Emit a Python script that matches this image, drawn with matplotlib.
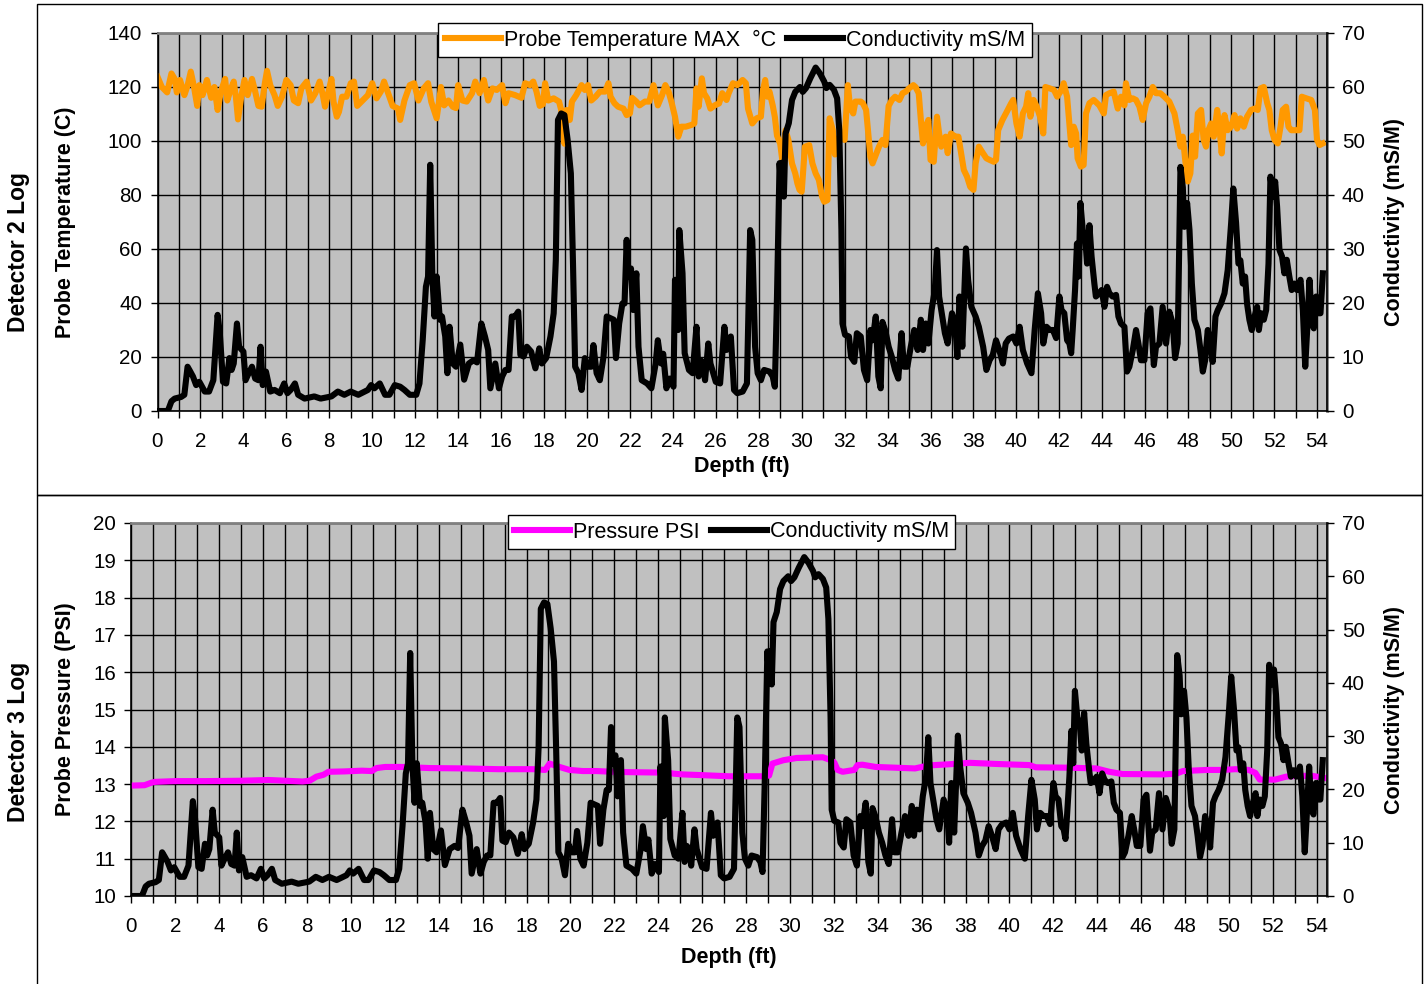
import matplotlib
matplotlib.use("Agg")
import matplotlib.pyplot as plt
from matplotlib.lines import Line2D
from matplotlib.patches import Rectangle
from matplotlib.ticker import MultipleLocator, FuncFormatter

plt.rcParams['font.family'] = ['Liberation Sans', 'DejaVu Sans']

# ---------------- data ----------------
cond_depth = [0.0, 0.45, 0.5, 0.65, 0.8, 1.1, 1.25, 1.4, 1.5, 1.65, 1.8, 1.95, 2.2, 2.4, 2.6, 2.8, 2.9, 3.05, 3.2,
              3.35, 3.45, 3.55, 3.7, 3.8, 4.0, 4.1, 4.2, 4.4, 4.55, 4.7, 4.8, 4.9, 5.05, 5.25, 5.45, 5.7, 5.9, 6.05,
              6.2, 6.4, 6.55, 6.85, 7.3, 7.6, 8.1, 8.4, 8.7, 9.0, 9.35, 9.8, 9.95, 10.1, 10.35, 10.6, 10.8, 11.05,
              11.3, 11.5, 11.75, 12.05, 12.2, 12.35, 12.5, 12.6, 12.7, 12.8, 12.9, 13.0, 13.15, 13.25, 13.4, 13.5,
              13.6, 13.75, 13.9, 14.1, 14.28, 14.5, 14.72, 14.88, 15.08, 15.25, 15.4, 15.5, 15.6, 15.73, 15.9,
              16.05, 16.2, 16.35, 16.5, 16.65, 16.8, 16.9, 17.05, 17.2, 17.4, 17.6, 17.78, 17.9, 18.1, 18.3, 18.45,
              18.55, 18.65, 18.8, 18.95, 19.1, 19.25, 19.35, 19.45, 19.6, 19.75, 19.9, 20.05, 20.2, 20.3, 20.45,
              20.6, 20.77, 20.92, 21.08, 21.25, 21.35, 21.5, 21.65, 21.75, 21.85, 21.9, 22.05, 22.15, 22.3, 22.4,
              22.55, 22.8, 23.0, 23.2, 23.3, 23.45, 23.55, 23.7, 23.85, 24.03, 24.1, 24.25, 24.3, 24.45, 24.55,
              24.75, 24.92, 25.1, 25.2, 25.3, 25.4, 25.5, 25.65, 25.75, 26.0, 26.2, 26.4, 26.5, 26.7, 26.85, 27.0,
              27.25, 27.45, 27.6, 27.7, 27.83, 27.95, 28.1, 28.25, 28.5, 28.65, 28.75, 28.85, 28.97, 29.05, 29.1,
              29.17, 29.25, 29.4, 29.55, 29.7, 29.92, 30.05, 30.2, 30.4, 30.65, 30.85, 31.05, 31.15, 31.3, 31.5,
              31.65, 31.75, 31.85, 31.9, 32.02, 32.2, 32.3, 32.45, 32.57, 32.75, 32.9, 33.05, 33.2, 33.3, 33.45,
              33.57, 33.68, 33.76, 33.9, 34.05, 34.2, 34.35, 34.5, 34.65, 34.76, 34.92, 35.08, 35.24, 35.4, 35.55,
              35.65, 35.78, 35.9, 36.05, 36.2, 36.3, 36.4, 36.5, 36.67, 36.8, 37.0, 37.15, 37.25, 37.35, 37.48,
              37.65, 37.75, 37.9, 38.1, 38.25, 38.45, 38.6, 38.75, 38.9, 39.05, 39.2, 39.37, 39.5, 39.65, 39.85,
              40.0, 40.15, 40.3, 40.5, 40.7, 40.85, 41.0, 41.15, 41.25, 41.4, 41.55, 41.7, 41.85, 42.0, 42.1,
              42.23, 42.36, 42.47, 42.55, 42.62, 42.73, 42.82, 42.9, 42.98, 43.09, 43.2, 43.29, 43.4, 43.5, 43.63,
              43.7, 43.86, 43.97, 44.1, 44.22, 44.33, 44.48, 44.64, 44.75, 44.87, 45.03, 45.15, 45.26, 45.42,
              45.57, 45.68, 45.8, 45.96, 46.11, 46.24, 46.4, 46.5, 46.66, 46.81, 46.97, 47.12, 47.28, 47.39,
              47.51, 47.64, 47.75, 47.82, 47.95, 48.06, 48.17, 48.29, 48.45, 48.57, 48.68, 48.79, 48.91, 49.03,
              49.14, 49.27, 49.38, 49.53, 49.69, 49.84, 50.0, 50.1, 50.23, 50.34, 50.43, 50.54, 50.65, 50.74,
              50.85, 50.96, 51.09, 51.21, 51.29, 51.4, 51.52, 51.63, 51.74, 51.83, 51.94, 52.05, 52.14, 52.25,
              52.37, 52.48, 52.59, 52.71, 52.82, 52.95, 53.07, 53.23, 53.34, 53.45, 53.54, 53.65, 53.76, 53.85,
              53.96, 54.07, 54.16, 54.27]
conductivity = [0, 0, 0.2, 1.8, 2.3, 2.6, 3.0, 8.2, 7.5, 6.4, 4.8, 5.4, 3.6, 3.6, 5.7, 17.8, 14.5, 5.4, 5.1,
                9.8, 7.6, 8.8, 16.2, 11.9, 11.0, 5.7, 6.6, 8.2, 6.0, 5.7, 11.9, 4.8, 7.3, 3.6, 3.9, 3.3, 5.1, 3.3,
                3.9, 5.1, 3.0, 2.3, 2.7, 2.3, 2.7, 3.6, 3.0, 3.6, 3.0, 3.9, 4.8, 4.2, 5.1, 3.0, 3.0, 4.8,
                4.5, 3.9, 3.0, 3.0, 5.1, 13.1, 23.0, 24.9, 45.6, 24.9, 17.5, 24.9, 16.9, 17.5, 13.8, 7.0,
                15.6, 8.8, 8.2, 12.3, 5.8, 8.8, 9.4, 9.0, 16.2, 13.8, 11.3, 4.2, 6.2, 8.8, 4.2,
                6.4, 7.6, 7.6, 17.5, 17.5, 18.4, 10.4, 10.1, 11.9, 11.0, 7.9, 11.6, 8.8, 9.8, 13.8, 18.1,
                28.0, 53.9, 55.1, 54.8, 50.2, 44.0, 27.3, 8.2, 7.0, 3.9, 9.8, 8.2, 8.2, 12.2, 7.0,
                5.7, 10.0, 17.5, 17.2, 16.9, 9.8, 16.2, 19.9, 19.9, 31.7, 24.9, 26.4, 18.7, 25.5, 11.9,
                5.7, 5.1, 4.2, 8.8, 13.1, 8.8, 10.6, 4.2, 6.0, 4.5, 24.3, 15.0, 33.5, 25.5, 10.7,
                7.6, 7.0, 15.6, 6.4, 9.4, 8.8, 5.7, 12.5, 8.8, 5.4, 5.1, 15.6, 11.3, 13.8, 3.9, 3.3,
                3.6, 5.1, 33.5, 31.7, 11.9, 7.0, 5.7, 7.6, 7.3, 6.4, 4.5, 21.2, 45.9, 41.0, 46.0,
                39.7, 51.4, 53.3, 57.6, 59.1, 60.0, 59.1, 59.8, 61.6, 63.6, 62.5, 61.0, 59.8, 60.4, 59.5,
                57.9, 52.0, 33.5, 16.2, 14.1, 13.8, 10.0, 9.1, 14.4, 13.8, 7.6, 5.7, 15.0, 13.1, 17.5,
                6.4, 4.2, 16.5, 14.8, 11.9, 10.0, 7.6, 6.0, 14.4, 8.2, 8.2, 11.9, 15.0, 11.3, 16.9,
                11.3, 16.2, 12.5, 18.7, 22.4, 29.8, 21.2, 18.7, 14.4, 12.5, 18.1, 16.2, 10.0, 21.2, 11.9,
                30.1, 24.3, 19.3, 17.5, 15.6, 11.9, 7.6, 9.4, 10.4, 13.1, 11.3, 8.8, 12.5, 13.4, 13.8,
                12.5, 15.6, 11.3, 8.8, 7.0, 15.0, 21.8, 18.1, 12.5, 15.6, 15.0, 15.0, 13.5, 21.2, 18.7,
                18.1, 13.1, 12.5, 10.7, 15.0, 22.4, 31.0, 24.9, 38.5, 33.5, 32.3, 27.3, 34.4, 28.6, 23.6,
                21.2, 21.8, 22.4, 19.3, 23.0, 21.8, 21.2, 21.5, 17.5, 16.2, 15.6, 7.3, 8.2, 11.3,
                15.0, 12.5, 9.4, 9.4, 18.1, 19.0, 8.5, 11.9, 12.5, 19.3, 12.5, 18.4, 16.2, 9.8,
                12.5, 45.2, 41.4, 34.1, 38.5, 33.5, 23.6, 16.9, 15.0, 11.3, 7.3, 9.4, 15.0, 13.1,
                9.1, 17.5, 18.7, 19.9, 21.8, 26.1, 34.8, 41.2, 34.8, 27.3, 27.9, 23.6, 24.9, 19.9,
                16.9, 15.0, 17.5, 19.3, 15.0, 18.1, 16.9, 18.7, 27.3, 43.4, 39.7, 42.5, 37.8, 29.8,
                28.6, 25.5, 28.0, 24.9, 22.4, 23.6, 22.4, 24.3, 18.7, 8.2, 15.0, 24.3, 16.2, 15.3,
                21.2, 18.1, 18.1, 25.5]

temp_depth = [0, 0.2, 0.45, 0.65, 0.8, 0.9, 1.05, 1.25, 1.4, 1.55, 1.7, 1.85, 1.95, 2.1, 2.3, 2.5, 2.65, 2.8,
              2.95, 3.15, 3.25, 3.4, 3.55, 3.65, 3.75, 3.9, 4.05, 4.2, 4.4, 4.55, 4.7, 4.85, 5.0, 5.1, 5.25, 5.45,
              5.6, 5.8, 6.0, 6.2, 6.35, 6.55, 6.7, 6.95, 7.15, 7.35, 7.55, 7.7, 7.8, 7.95, 8.1, 8.2, 8.35, 8.45,
              8.6, 8.8, 9.0, 9.15, 9.3, 9.55, 9.8, 10.0, 10.2, 10.4, 10.55, 10.8, 10.95, 11.2, 11.3, 11.5, 11.75,
              11.95, 12.15, 12.4, 12.6, 12.75, 13.0, 13.1, 13.2, 13.35, 13.55, 13.75, 13.9, 14.0, 14.2, 14.4,
              14.65, 14.8, 15.0, 15.2, 15.4, 15.6, 15.8, 16.05, 16.2, 16.35, 16.65, 16.95, 17.12, 17.35, 17.5,
              17.65, 17.8, 17.95, 18.05, 18.2, 18.45, 18.7, 18.8, 18.95, 19.05, 19.2, 19.3, 19.5, 19.75, 19.9,
              20.05, 20.2, 20.4, 20.6, 20.85, 21.0, 21.1, 21.28, 21.45, 21.7, 21.85, 22.0, 22.1, 22.3, 22.45,
              22.7, 22.9, 23.1, 23.3, 23.5, 23.65, 23.8, 23.95, 24.1, 24.25, 24.4, 24.6, 24.85, 25.0, 25.1, 25.2,
              25.35, 25.45, 25.6, 25.75, 25.95, 26.15, 26.3, 26.5, 26.6, 26.8, 27.0, 27.25, 27.4, 27.5, 27.7,
              27.9, 28.1, 28.2, 28.3, 28.4, 28.5, 28.65, 28.75, 28.85, 29.0, 29.1, 29.25, 29.38, 29.55, 29.7,
              29.8, 29.9, 30.0, 30.15, 30.35, 30.5, 30.65, 30.8, 30.95, 31.05, 31.2, 31.3, 31.45, 31.55, 31.6,
              31.8, 32.0, 32.15, 32.25, 32.4, 32.5, 32.75, 32.85, 33.0, 33.2, 33.3, 33.45, 33.6, 33.76, 33.9,
              34.05, 34.2, 34.35, 34.55, 34.7, 34.85, 35.0, 35.2, 35.3, 35.45, 35.55, 35.65, 35.78, 35.9, 36.0,
              36.15, 36.3, 36.4, 36.5, 36.7, 36.8, 36.95, 37.15, 37.3, 37.45, 37.55, 37.7, 37.85, 38.0, 38.1,
              38.25, 38.4, 38.6, 38.75, 38.95, 39.05, 39.15, 39.35, 39.55, 39.75, 39.85, 40.0, 40.15, 40.3,
              40.45, 40.55, 40.65, 40.8, 40.95, 41.1, 41.25, 41.35, 41.55, 41.75, 41.9, 42.1, 42.2, 42.36,
              42.47, 42.55, 42.67, 42.78, 42.85, 43.0, 43.13, 43.24, 43.4, 43.6, 43.86, 44.07, 44.17, 44.33,
              44.53, 44.72, 44.87, 45.03, 45.1, 45.26, 45.42, 45.57, 45.73, 45.88, 46.04, 46.19, 46.35, 46.5,
              46.7, 46.89, 47.12, 47.36, 47.51, 47.64, 47.75, 47.86, 47.98, 48.1, 48.21, 48.32, 48.45, 48.6,
              48.72, 48.83, 48.94, 49.07, 49.19, 49.35, 49.45, 49.56, 49.69, 49.84, 50.0, 50.16, 50.28, 50.43,
              50.59, 50.74, 50.93, 51.09, 51.24, 51.37, 51.52, 51.68, 51.78, 51.89, 52.02, 52.17, 52.3, 52.4,
              52.56, 52.67, 52.8, 53.03, 53.18, 53.29, 53.5, 53.73, 53.9, 54.0, 54.12, 54.27]
temperature = [123.8, 120, 118, 125, 123, 118, 122.6, 117, 120.5, 125.7, 120, 113, 120.7, 117, 122.6, 116, 120,
               111.5, 118.3, 123, 115, 118.9, 122, 116.4, 108, 116.4, 122.6, 117, 123, 118.3, 113, 112.7, 121.4,
               126, 120.7, 117, 113, 116.4, 122.6, 120.7, 115, 114, 119.5, 122, 115, 117.7, 122, 117, 112.7,
               117.7, 123, 114.5, 109, 110.8, 116.4, 116.4, 121.4, 122, 113, 115, 117, 121.4, 115.8, 118.3, 122,
               116.4, 113, 112, 107.8, 115, 120.7, 121.4, 115, 119.5, 121.4, 114.5, 108.4, 114, 120, 113.2, 115,
               112.7, 112.2, 120.7, 115, 114.6, 117.7, 122, 117.7, 122.6, 115, 119.5, 118.9, 120.7, 114, 117.7,
               117, 116, 121.4, 120.7, 122, 118.3, 113, 113.6, 121.4, 115, 115.8, 114.6, 111.5, 99, 111.5,
               107.8, 114.6, 117, 120.7, 118.9, 120.7, 115, 116.4, 118.3, 118.3, 121.4, 116.4, 114, 112.7, 112,
               109.6, 110.2, 116, 114.6, 113.2, 114.6, 114.6, 120.7, 113.2, 117, 120.7, 118.3, 114, 109, 101.6,
               105.3, 105.3, 105.9, 106.5, 119.5, 112.7, 123.2, 117.7, 115.8, 112, 113.2, 113.9, 117.7, 115.2,
               117.7, 121.4, 120.7, 122.6, 121.4, 112, 106.5, 108.4, 109, 118.9, 122.6, 116.4, 118.3, 113.2,
               108.9, 102, 99, 92.7, 104, 100.4, 91.7, 88, 84.3, 81.9, 81.2, 97.9, 98.5, 91.7, 88, 85.6, 79.4,
               77.5, 78.1, 108.4, 104, 95, 100.4, 101.6, 100.4, 120.7, 112.7, 110.2, 114.6, 114.6, 114, 111.5,
               94.2, 91.7, 94.8, 97.9, 100.4, 98.5, 113, 115.2, 116.4, 115.2, 117.7, 118.3, 119.5, 120.7, 120,
               117.7, 107.8, 99.1, 105.3, 107.8, 93, 92.3, 109, 102.8, 97.9, 101.6, 95.5, 102.8, 101.6, 101.6,
               94.2, 89.3, 86.8, 83, 81.9, 91.7, 97.9, 96, 93.6, 93, 92.3, 93, 104, 107.8, 110.8, 113.9, 115.2,
               106.5, 101.6, 110.2, 112.7, 117.7, 109, 115.2, 112.7, 109, 102.8, 120, 119.5, 118.9, 116.4,
               118.9, 121.4, 116.4, 106, 98.5, 105.3, 102.8, 93.6, 90.5, 91.1, 110.2, 114, 115.2, 113.2, 110.2,
               117, 117.7, 118.3, 112, 116.4, 113.2, 121.4, 115.2, 115.8, 115.2, 112.7, 107.8, 114, 116.4, 120,
               117.7, 117.7, 116.4, 114.6, 110.2, 104, 97.9, 101.6, 93, 85, 88, 102, 94.2, 110.2, 111.5, 100.4,
               97.9, 104, 106.5, 101.6, 111.5, 105.3, 95.4, 109.6, 104, 105.3, 109.6, 104.6, 108.4, 105.3, 109,
               111.5, 112, 111.5, 119.5, 120, 114, 111.5, 104, 100.4, 99.1, 105.3, 111.5, 112.7, 105.3, 104,
               104, 104, 116.4, 115.8, 115.2, 111.5, 100.4, 98.5, 99.1]

press_depth = [0, 0.6, 0.92, 1.08, 2.0, 3.4, 5.0, 6.25, 7.0, 7.8, 8.12, 8.43, 8.75, 8.98, 9.7, 10.5, 10.95,
               11.17, 11.56, 12.3, 13.6, 15.2, 16.7, 18.3, 18.85, 19.05, 19.5, 19.95, 20.56, 21.2, 21.9, 22.7,
               24.0, 24.3, 24.7, 25.1, 26.0, 27.2, 28.75, 29.05, 29.2, 29.7, 30.3, 31.5, 31.87, 32.02, 32.17,
               32.4, 32.93, 33.08, 33.3, 33.9, 34.8, 35.7, 36.3, 37.2, 38.2, 39.4, 40.9, 41.2, 42.7, 43.95,
               44.55, 45.15, 47.0, 47.6, 47.9, 49.0, 49.7, 50.3, 50.9, 51.2, 51.4, 52.1, 52.6, 53.05, 53.8, 54.3]
pressure = [12.96, 12.97, 13.04, 13.06, 13.08, 13.08, 13.09, 13.11, 13.09, 13.07, 13.09, 13.2, 13.25, 13.33,
            13.34, 13.36, 13.35, 13.43, 13.46, 13.46, 13.43, 13.42, 13.4, 13.4, 13.38, 13.55, 13.46, 13.38,
            13.35, 13.35, 13.33, 13.32, 13.31, 13.32, 13.28, 13.26, 13.24, 13.21, 13.21, 13.23, 13.55, 13.64,
            13.7, 13.72, 13.64, 13.58, 13.38, 13.33, 13.38, 13.51, 13.52, 13.46, 13.44, 13.42, 13.5, 13.53,
            13.57, 13.54, 13.51, 13.45, 13.44, 13.42, 13.33, 13.27, 13.26, 13.28, 13.35, 13.38, 13.38, 13.4,
            13.38, 13.3, 13.12, 13.12, 13.2, 13.22, 13.22, 13.17]

# ---------------- figure ----------------
W, H = 1426, 984
fig = plt.figure(figsize=(W / 100, H / 100), dpi=100)
fig.patch.set_facecolor('white')

GRAY = '#C0C0C0'
ORANGE = '#FF9900'
MAGENTA = '#FF00FF'
FS = 14.8
LFS = 15.5
LW = 4.4
XMAX = 54.45


def fx(px):
    return px / W


def fy(py):
    return 1 - py / H


def style_axes(ax, ax2, ylim, ystep):
    ax.set_facecolor(GRAY)
    ax.set_xlim(0, XMAX)
    ax.set_ylim(*ylim)
    ax.xaxis.set_major_locator(MultipleLocator(1))
    ax.xaxis.set_major_formatter(FuncFormatter(lambda v, p: f"{int(round(v))}" if int(round(v)) % 2 == 0 else ""))
    ax.yaxis.set_major_locator(MultipleLocator(ystep))
    ax.grid(True, color='black', linewidth=1.0)
    ax.set_axisbelow(True)
    ax.tick_params(axis='both', direction='out', length=5, width=1, labelsize=FS, colors='black')
    ax.tick_params(axis='x', pad=10)
    ax.tick_params(axis='y', pad=6)
    for s in ['left', 'bottom']:
        ax.spines[s].set_color('black')
        ax.spines[s].set_linewidth(1.2)
    ax.spines['top'].set_color('#808080')
    ax.spines['top'].set_linewidth(2)
    ax.spines['right'].set_color('#808080')
    ax.spines['right'].set_linewidth(2)
    ax2.set_ylim(0, 70)
    ax2.yaxis.set_major_locator(MultipleLocator(10))
    ax2.tick_params(axis='y', direction='out', length=5, width=1, labelsize=FS, pad=6)
    ax2.spines['right'].set_color('black')
    ax2.spines['right'].set_linewidth(1.2)
    for s in ['left', 'top', 'bottom']:
        ax2.spines[s].set_visible(False)


# ----- top panel -----
ax1 = fig.add_axes([fx(157.5), fy(411), fx(1326.7) - fx(157.5), fy(33) - fy(411)])
ax1b = ax1.twinx()
ax1.plot(temp_depth, temperature, color=ORANGE, linewidth=LW, solid_joinstyle='round')
ax1b.plot(cond_depth, conductivity, color='black', linewidth=LW, solid_joinstyle='round')
style_axes(ax1, ax1b, (0, 140), 20)
ax1.set_xlabel('Depth (ft)', fontsize=LFS, fontweight='bold')
ax1.xaxis.set_label_coords(0.5, -0.119)
ax1.set_ylabel('Probe Temperature (C)', fontsize=LFS, fontweight='bold')
ax1.yaxis.set_label_coords(-0.070, 0.5)
ax1b.set_ylabel('Conductivity (mS/M)', fontsize=LFS, fontweight='bold')
ax1b.yaxis.set_label_coords(1.0488, 0.5)

h1 = [Line2D([], [], color=ORANGE, linewidth=LW), Line2D([], [], color='black', linewidth=LW)]
leg1 = ax1b.legend(h1, ['Probe Temperature MAX  \u00b0C', 'Conductivity mS/M'], loc='center',
                   bbox_to_anchor=(fx(735), fy(40)), bbox_transform=fig.transFigure, ncol=2,
                   fontsize=LFS, frameon=True, fancybox=False, framealpha=1, edgecolor='black',
                   handlelength=2.6, handletextpad=0.15, columnspacing=0.5, borderpad=0.3,
                   borderaxespad=0)
leg1.get_frame().set_linewidth(1.0)

# ----- bottom panel -----
ax2 = fig.add_axes([fx(131.4), fy(896), fx(1326.7) - fx(131.4), fy(523) - fy(896)])
ax2b = ax2.twinx()
ax2.plot(press_depth, pressure, color=MAGENTA, linewidth=LW, solid_joinstyle='round')
ax2b.plot(cond_depth, conductivity, color='black', linewidth=LW, solid_joinstyle='round')
style_axes(ax2, ax2b, (10, 20), 1)
ax2.set_xlabel('Depth (ft)', fontsize=LFS, fontweight='bold')
ax2.xaxis.set_label_coords(0.5, -0.1365)
ax2.set_ylabel('Probe Pressure (PSI)', fontsize=LFS, fontweight='bold')
ax2.yaxis.set_label_coords(-0.0466, 0.5)
ax2b.set_ylabel('Conductivity (mS/M)', fontsize=LFS, fontweight='bold')
ax2b.yaxis.set_label_coords(1.0476, 0.5)

h2 = [Line2D([], [], color=MAGENTA, linewidth=LW), Line2D([], [], color='black', linewidth=LW)]
leg2 = ax2b.legend(h2, ['Pressure PSI', 'Conductivity mS/M'], loc='center',
                   bbox_to_anchor=(fx(731.5), fy(532)), bbox_transform=fig.transFigure, ncol=2,
                   fontsize=LFS, frameon=True, fancybox=False, framealpha=1, edgecolor='black',
                   handlelength=2.6, handletextpad=0.15, columnspacing=0.5, borderpad=0.3,
                   borderaxespad=0)
leg2.get_frame().set_linewidth(1.0)

# ----- panel titles and borders -----
fig.text(fx(19), fy(252), 'Detector 2 Log', rotation=90, ha='center', va='center',
         fontsize=16.5, fontweight='bold')
fig.text(fx(19), fy(742), 'Detector 3 Log', rotation=90, ha='center', va='center',
         fontsize=16.5, fontweight='bold')

fig.patches.append(Rectangle((fx(37), fy(495)), fx(1422) - fx(37), fy(4) - fy(495),
                             transform=fig.transFigure, fill=False, edgecolor='black', linewidth=1))
fig.patches.append(Rectangle((fx(37), fy(990)), fx(1422) - fx(37), fy(495) - fy(990),
                             transform=fig.transFigure, fill=False, edgecolor='black', linewidth=1))

fig.savefig('out.png', dpi=100)
